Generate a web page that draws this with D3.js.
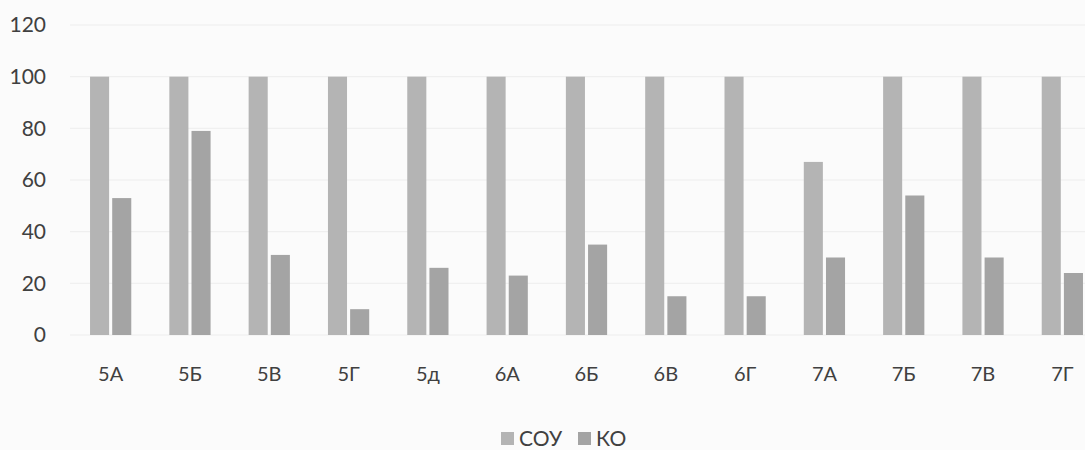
<!DOCTYPE html>
<html>
<head>
<meta charset="utf-8">
<script src="https://cdn.jsdelivr.net/npm/d3@7"></script>
<style>
  body { margin: 0; background: #fbfbfb; }
  text { font-family: Lato, "Open Sans", sans-serif; fill: #404040; }
</style>
</head>
<body>
<div id="chart"></div>
<script>
// categories and series
var classes = ["5А", "5Б", "5В", "5Г", "5д", "6А", "6Б", "6В", "6Г", "7А", "7Б", "7В", "7Г"];
var seriesNames = ["СОУ", "КО"];
var souValues = [100, 100, 100, 100, 100, 100, 100, 100, 100, 67, 100, 100, 100];
var koValues = [53, 79, 31, 10, 26, 23, 35, 15, 15, 30, 54, 30, 24];
var yTicks = [0, 20, 40, 60, 80, 100, 120];

var width = 1085;
var height = 450;
var colors = ["#b4b4b4", "#a4a4a4"];

var svg = d3.select("#chart")
  .append("svg")
  .attr("width", width)
  .attr("height", height);

svg.append("rect")
  .attr("width", width)
  .attr("height", height)
  .attr("fill", "#fbfbfb");

var xScale = d3.scaleBand()
  .domain(classes)
  .range([71, 1102])
  .paddingInner(0.48)
  .paddingOuter(0.24);

var xSub = d3.scaleBand()
  .domain(seriesNames)
  .range([0, xScale.bandwidth()])
  .paddingInner(0.14);

var yScale = d3.scaleLinear()
  .domain([0, 120])
  .range([335, 25]);

// gridlines
svg.append("g")
  .selectAll("line")
  .data(yTicks)
  .enter()
  .append("line")
  .attr("x1", 70)
  .attr("x2", width)
  .attr("y1", function(d) { return yScale(d); })
  .attr("y2", function(d) { return yScale(d); })
  .attr("stroke", "#ededed")
  .attr("stroke-width", 1);

// y axis labels
var yAxis = d3.axisLeft(yScale).tickValues(yTicks).tickSize(0).tickPadding(0);
var yG = svg.append("g")
  .attr("transform", "translate(46,0)")
  .call(yAxis);
yG.select(".domain").remove();
yG.selectAll("text")
  .attr("font-size", "21px")
  .style("font-family", "Lato, 'Open Sans', sans-serif")
  .attr("fill", "#404040");

// bars
var rows = classes.map(function(c, i) {
  return { cls: c, vals: [souValues[i], koValues[i]] };
});

var groups = svg.selectAll("g.grp")
  .data(rows)
  .enter()
  .append("g")
  .attr("class", "grp")
  .attr("transform", function(d) { return "translate(" + xScale(d.cls) + ",0)"; });

groups.selectAll("rect")
  .data(function(d) {
    return d.vals.map(function(v, j) { return { name: seriesNames[j], v: v, j: j }; });
  })
  .enter()
  .append("rect")
  .attr("x", function(d) { return xSub(d.name); })
  .attr("y", function(d) { return yScale(d.v); })
  .attr("width", xSub.bandwidth())
  .attr("height", function(d) { return yScale(0) - yScale(d.v); })
  .attr("fill", function(d) { return colors[d.j]; });

// x axis labels
var xAxis = d3.axisBottom(xScale).tickSize(0).tickPadding(0);
var xG = svg.append("g")
  .attr("transform", "translate(0,367)")
  .call(xAxis);
xG.select(".domain").remove();
xG.selectAll("text")
  .attr("font-size", "20px")
  .style("font-family", "Lato, 'Open Sans', sans-serif")
  .attr("fill", "#404040");

// legend
var legend = svg.append("g").attr("transform", "translate(501,438)");
var legX = [0, 77];
seriesNames.forEach(function(name, i) {
  legend.append("rect")
    .attr("x", legX[i])
    .attr("y", -6)
    .attr("width", 13)
    .attr("height", 13)
    .attr("fill", colors[i]);
  legend.append("text")
    .attr("x", legX[i] + 18)
    .attr("y", 8)
    .attr("font-size", "21px")
    .text(name);
});
</script>
</body>
</html>
